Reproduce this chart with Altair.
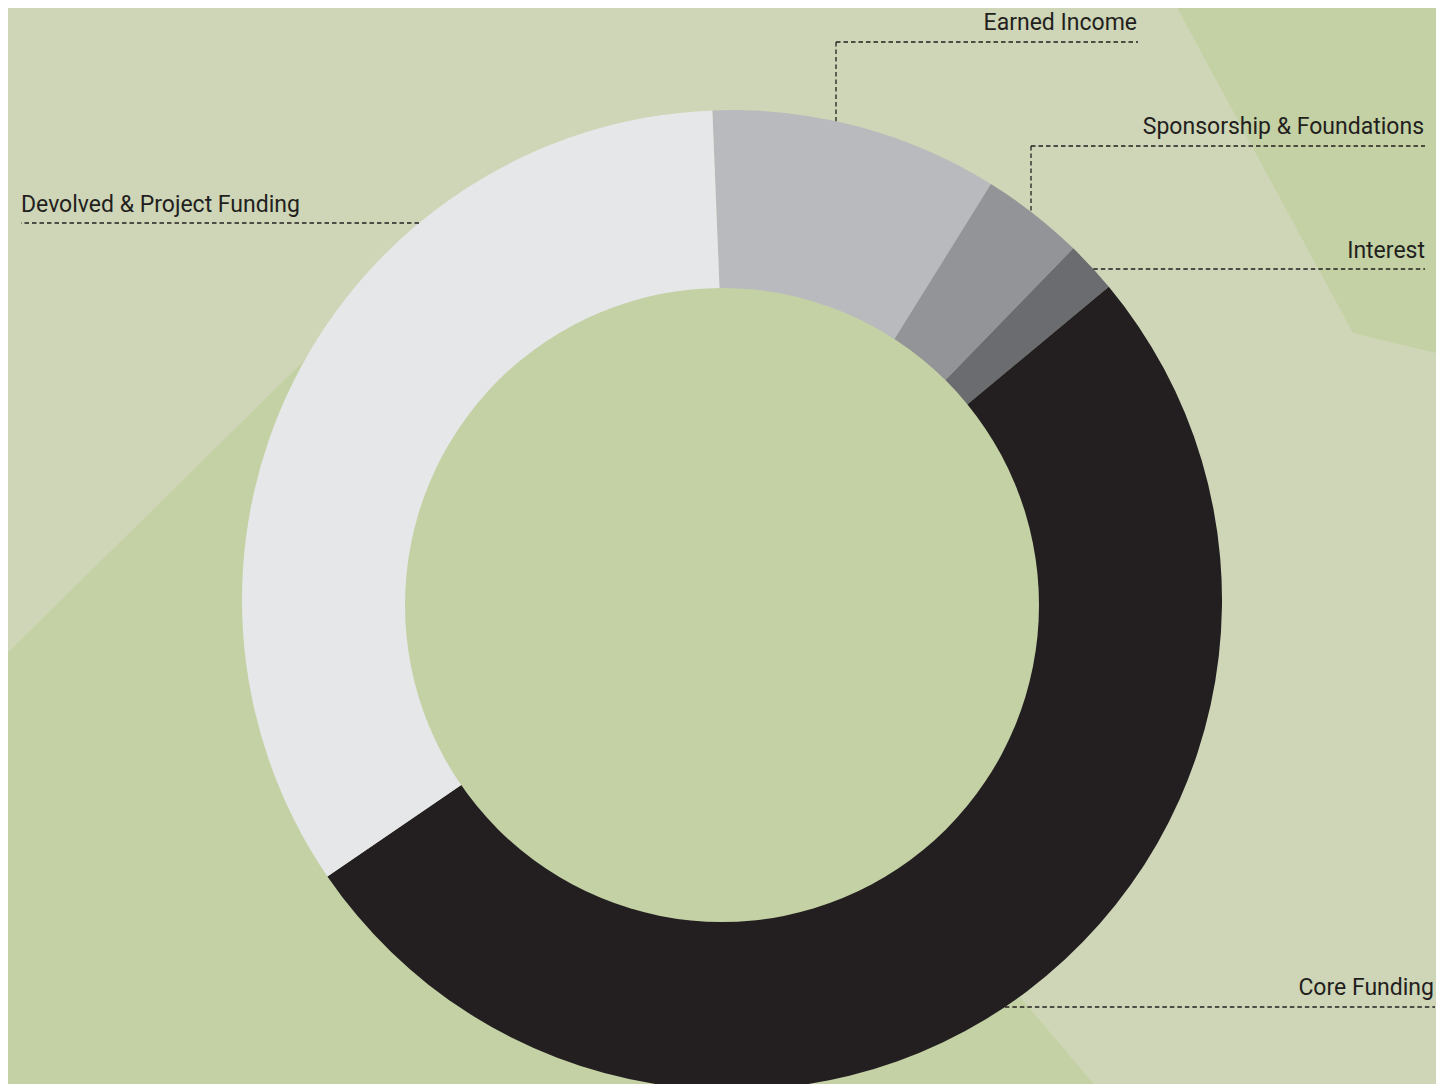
import math
import altair as alt
import pandas as pd

# ---- data ----
categories = ["Earned Income", "Sponsorship & Foundations", "Interest",
              "Core Funding", "Devolved & Project Funding"]
shares = [9.5, 3.4, 1.7, 51.5, 33.9]
slice_colors = ["#b9babd", "#939497", "#6b6c6f", "#231f20", "#e6e7e8"]

# ---- layout (page pixel coordinates) ----
W, H = 1428, 1076          # chart size (page minus 8px margin)
OX, OY = 8, 8              # page offset of the chart
CX, CY = 732, 600          # donut centre on the page
R_OUT = 490
HOLE_X, HOLE_Y, HOLE_R = 722, 605, 317   # the hole is drawn slightly off-centre
START = math.radians(357.7)

LIGHT = "#ced6b7"
DARK = "#c4d1a4"
INK = "#231f20"

# label anchor layout: text x, text baseline y, align, leader y, leader far x, elbow x (or None)
label_text_x = [1137, 1424, 1425, 1434, 21]
label_text_y = [30, 134, 258, 995, 212]
label_align = ["right", "right", "right", "right", "left"]
leader_y = [42, 146, 269, 1007, 223]
leader_far_x = [1138, 1425, 1425, 1435, 21]
leader_elbow_x = [836, 1031, None, None, None]

# ---- build tables ----
df = pd.DataFrame({"category": categories, "share": shares, "order": list(range(len(categories)))})

segs = []
for i, cat in enumerate(categories):
    ly = leader_y[i]
    ex = leader_elbow_x[i]
    if ex is not None:
        segs.append({"x": ex, "x2": leader_far_x[i], "y": ly, "y2": ly})
        ring_y = CY - math.sqrt(R_OUT ** 2 - (ex - CX) ** 2)
        segs.append({"x": ex, "x2": ex, "y": ly, "y2": ring_y})
    else:
        dx = math.sqrt(R_OUT ** 2 - (ly - CY) ** 2)
        ring_x = CX + dx if leader_far_x[i] > CX else CX - dx
        segs.append({"x": ring_x, "x2": leader_far_x[i], "y": ly, "y2": ly})
seg_df = pd.DataFrame(segs)

lab_df = pd.DataFrame({"label": categories, "x": label_text_x, "y": label_text_y,
                       "align": label_align})

xs = alt.Scale(domain=[OX, OX + W], nice=False, zero=False)
ys = alt.Scale(domain=[OY, OY + H], nice=False, zero=False, reverse=True)

one = alt.Data(values=[{"k": 0}])

# ---- background decoration ----
wedge_ll = alt.Chart(one).mark_arc(
    radius=1500, theta=math.radians(139.7), theta2=math.radians(225.4), color=DARK
).encode(x=alt.value(400 - OX), y=alt.value(266 - OY))

wedge_tr = alt.Chart(one).mark_arc(
    radius=600, theta=math.radians(331.6), theta2=math.radians(463.6), color=DARK
).encode(x=alt.value(1353 - OX), y=alt.value(333 - OY))

# ---- donut ----
donut = alt.Chart(df).mark_arc(outerRadius=R_OUT, innerRadius=250).encode(
    theta=alt.Theta("share:Q", stack=True,
                    scale=alt.Scale(range=[START, START + 2 * math.pi])),
    color=alt.Color("category:N",
                    scale=alt.Scale(domain=categories, range=slice_colors),
                    legend=None),
    order=alt.Order("order:Q"),
    x=alt.value(CX - OX),
    y=alt.value(CY - OY),
)

hole = alt.Chart(one).mark_arc(
    radius=HOLE_R, theta=0, theta2=2 * math.pi, color=DARK
).encode(x=alt.value(HOLE_X - OX), y=alt.value(HOLE_Y - OY))

# ---- leaders ----
leaders = alt.Chart(seg_df).mark_rule(
    color=INK, strokeWidth=1.3, strokeDash=[4.5, 3]
).encode(
    x=alt.X("x:Q", scale=xs, axis=None),
    x2="x2:Q",
    y=alt.Y("y:Q", scale=ys, axis=None),
    y2="y2:Q",
)

# ---- labels ----
def text_layer(align):
    return alt.Chart(lab_df).transform_filter(
        alt.datum.align == align
    ).mark_text(
        align=align, baseline="alphabetic", font="Roboto", fontSize=23, color=INK
    ).encode(
        x=alt.X("x:Q", scale=xs, axis=None),
        y=alt.Y("y:Q", scale=ys, axis=None),
        text="label:N",
    )

chart = alt.layer(
    wedge_ll, wedge_tr, donut, hole, leaders, text_layer("right"), text_layer("left")
).properties(
    width=W, height=H, background=LIGHT, padding=0,
    autosize=alt.AutoSizeParams(type="none"),
).configure_view(stroke=None)

chart.save("out.html", embed_options={"renderer": "svg", "actions": False})
